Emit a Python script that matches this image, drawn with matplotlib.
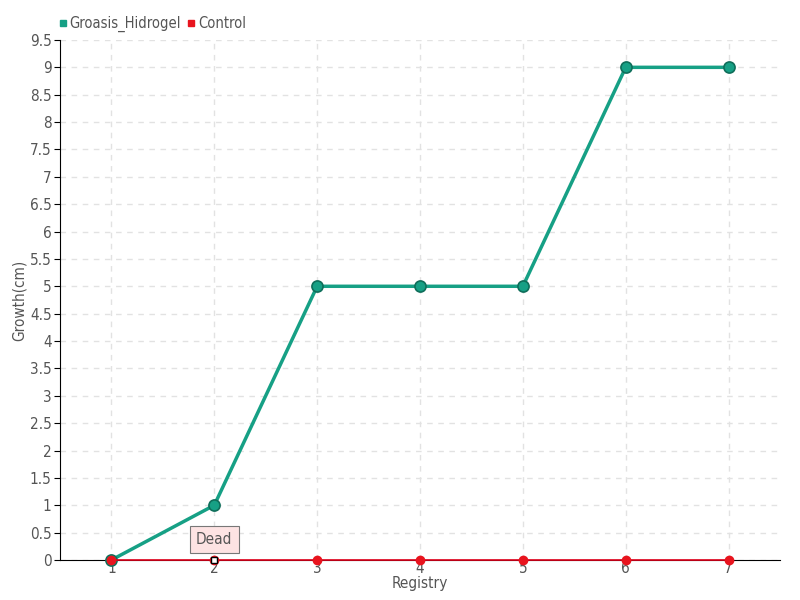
import matplotlib.pyplot as plt
from matplotlib.lines import Line2D

registry = [1, 2, 3, 4, 5, 6, 7]
groasis = [0, 1, 5, 5, 5, 9, 9]
control = [0, 0, 0, 0, 0, 0, 0]
y_ticks = [0, 0.5, 1, 1.5, 2, 2.5, 3, 3.5, 4, 4.5, 5, 5.5, 6, 6.5, 7, 7.5, 8, 8.5, 9, 9.5]

plt.rcParams['font.family'] = ['DejaVu Sans']
plt.rcParams['font.stretch'] = 'condensed'
txt = '#555555'
green = '#16a085'
red = '#e8141e'

fig = plt.figure(figsize=(8, 6), dpi=100)
ax = fig.add_axes([0.075, 0.0667, 0.9, 0.8667])

ax.plot(registry, groasis, color=green, lw=2.5, marker='o', ms=8,
        markerfacecolor=green, markeredgecolor='#0f6e5a', markeredgewidth=1.2,
        zorder=4, clip_on=False)
ax.plot(registry, control, color='#e0001b', lw=1.2, marker='o', ms=6,
        markerfacecolor=red, markeredgecolor=red, zorder=5, clip_on=False)

# tooltip on the control point at registry 2
ax.plot([2], [0], marker='s', ms=5, markerfacecolor='white', markeredgecolor='black',
        zorder=6, clip_on=False)
ax.annotate('Dead', xy=(2, 0), xytext=(2, 0.38), ha='center', va='center',
            fontsize=11, color=txt, zorder=7,
            bbox=dict(boxstyle='square,pad=0.4', fc='#fde3e3', ec='#777777', lw=0.8))

ax.set_xlim(0.5, 7.5)
ax.set_ylim(0, 9.5)
ax.set_xticks(registry)
ax.set_yticks(y_ticks)
ax.set_yticklabels([f'{v:g}' for v in y_ticks])
ax.grid(True, ls=(0, (4, 4)), color='#e2e2e2', lw=1)
ax.set_axisbelow(True)
for s in ['top', 'right']:
    ax.spines[s].set_visible(False)
ax.tick_params(axis='y', length=4, labelcolor=txt, labelsize=11, pad=2)
ax.tick_params(axis='x', length=3, color='#666666', labelcolor=txt, labelsize=11, pad=-2)
ax.set_xlabel('Registry', color=txt, fontsize=11, labelpad=-0.5)
ax.set_ylabel('Growth(cm)', color=txt, fontsize=11, labelpad=2)

h = [Line2D([], [], ls='', marker='s', ms=5, color=green),
     Line2D([], [], ls='', marker='s', ms=5, color=red)]
fig.legend(h, ['Groasis_Hidrogel', 'Control'], loc='upper left', bbox_to_anchor=(0.055, 0.995),
           ncol=2, frameon=False, fontsize=10.5, labelcolor=txt, handletextpad=0.05,
           columnspacing=0.3, handlelength=0.8)

fig.savefig('out.png', dpi=100)
